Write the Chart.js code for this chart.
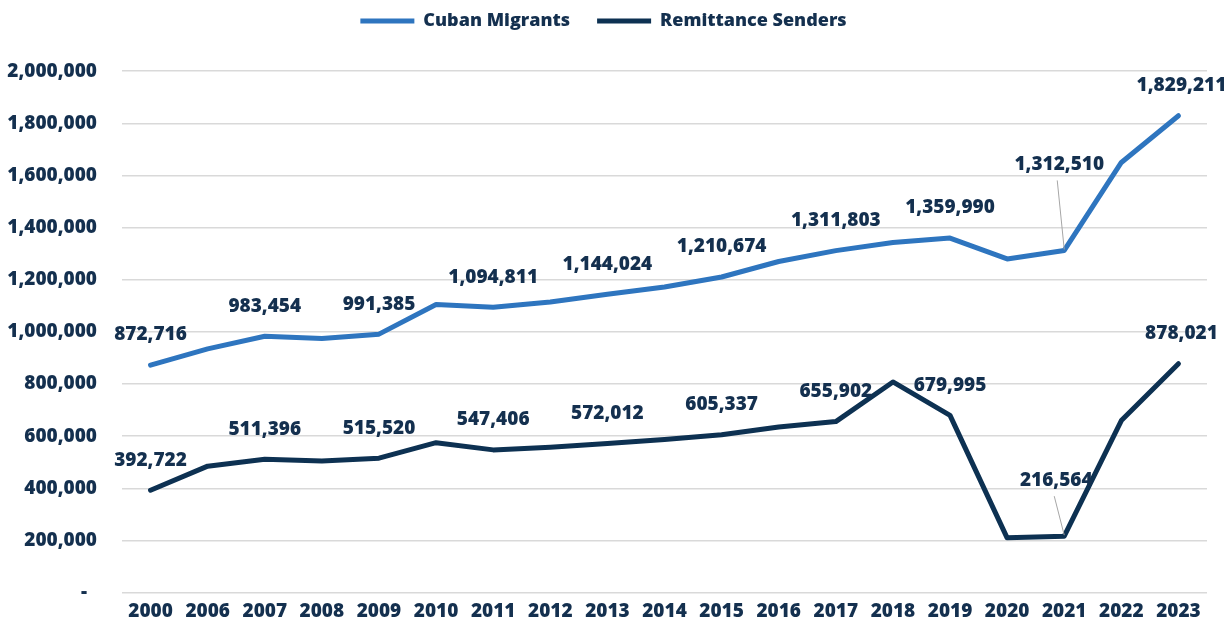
<!DOCTYPE html>
<html>
<head>
<meta charset="utf-8">
<script src="https://cdn.jsdelivr.net/npm/chart.js@4.4.1/dist/chart.umd.min.js"></script>
<style>
  html, body { margin: 0; padding: 0; background: #ffffff; }
  #wrap { width: 1228px; height: 629px; }
</style>
</head>
<body>
<div id="wrap"><canvas id="c" width="1228" height="629"></canvas></div>
<script>
const categories = ['2000','2006','2007','2008','2009','2010','2011','2012','2013','2014','2015','2016','2017','2018','2019','2020','2021','2022','2023'];
const cubanMigrants = [872716, 935000, 983454, 975000, 991385, 1105000, 1094811, 1115000, 1144024, 1172000, 1210674, 1270000, 1311803, 1343000, 1359990, 1280000, 1312510, 1650000, 1829211];
const remittanceSenders = [392722, 485000, 511396, 505000, 515520, 575000, 547406, 558000, 572012, 587000, 605337, 635000, 655902, 808000, 679995, 210000, 216564, 660000, 878021];
const labeledYears = ['2000','2007','2009','2011','2013','2015','2017','2019','2021','2023'];
const yTicks = [0, 200000, 400000, 600000, 800000, 1000000, 1200000, 1400000, 1600000, 1800000, 2000000];

const NAVY_TEXT = '#14304F';
const BLUE = '#2E75BF';
const DARK = '#0D3152';
const FONT = "'Open Sans', 'Noto Sans', sans-serif";
const W = 800;

const fmt = v => v.toLocaleString('en-US');

const labelPlugin = {
  id: 'pointLabels',
  afterDatasetsDraw(chart, args, opts) {
    const ctx = chart.ctx;
    ctx.save();
    ctx.font = `${W} ${opts.size}px ${FONT}`;
    ctx.fillStyle = NAVY_TEXT;
    ctx.textAlign = 'center';
    ctx.textBaseline = 'middle';
    chart.data.datasets.forEach((ds, di) => {
      const meta = chart.getDatasetMeta(di);
      meta.data.forEach((pt, i) => {
        const cat = categories[i];
        if (!labeledYears.includes(cat)) return;
        const special = (opts.special[di] || {})[cat];
        const dx = special ? special.dx : opts.dx;
        const dy = special ? special.dy : opts.dy;
        const lx = pt.x + dx, ly = pt.y + dy;
        if (special && special.leader) {
          ctx.save();
          ctx.strokeStyle = '#A6A6A6';
          ctx.lineWidth = 1;
          ctx.beginPath();
          ctx.moveTo(lx - 2, ly + 16);
          ctx.lineTo(pt.x, pt.y - 1);
          ctx.stroke();
          ctx.restore();
        }
        ctx.fillText(fmt(ds.data[i]), lx, ly);
      });
    });
    ctx.restore();
  }
};

new Chart(document.getElementById('c'), {
  type: 'line',
  data: {
    labels: categories,
    datasets: [
      { label: 'Cuban Migrants', data: cubanMigrants, borderColor: BLUE, backgroundColor: BLUE },
      { label: 'Remittance Senders', data: remittanceSenders, borderColor: DARK, backgroundColor: DARK }
    ]
  },
  options: {
    responsive: false,
    animation: false,
    layout: { padding: { left: 0, right: 21, top: -15, bottom: -5 } },
    elements: {
      line: { borderWidth: 5, tension: 0, borderCapStyle: 'round', borderJoinStyle: 'round', fill: false },
      point: { radius: 0, hoverRadius: 0 }
    },
    plugins: {
      tooltip: { enabled: false },
      title: { display: true, text: '', weight: 500, font: { size: 1 }, padding: { top: 30, bottom: 0 } },
      legend: {
        position: 'top',
        align: 'center',
        labels: {
          boxWidth: 54,
          boxHeight: 0,
          padding: 27,
          color: NAVY_TEXT,
          font: { family: FONT, size: 18, weight: W },
          generateLabels(chart) {
            return chart.data.datasets.map((ds, i) => ({
              text: ds.label,
              fillStyle: 'rgba(0,0,0,0)',
              strokeStyle: ds.borderColor,
              lineWidth: 5,
              lineCap: 'round',
              fontColor: NAVY_TEXT,
              datasetIndex: i,
              hidden: false
            }));
          }
        }
      },
      pointLabels: {
        size: 19,
        dx: 0,
        dy: -30,
        special: [
          { '2021': { dx: -5, dy: -86, leader: true }, '2023': { dx: 3, dy: -30 } },
          { '2021': { dx: -8, dy: -56, leader: true }, '2023': { dx: 3, dy: -30 } }
        ]
      }
    },
    scales: {
      x: {
        offset: true,
        grid: { display: false, drawTicks: false },
        border: { display: false },
        ticks: { color: NAVY_TEXT, font: { family: FONT, size: 19, weight: W }, padding: 8, maxRotation: 0, autoSkip: false }
      },
      y: {
        min: 0,
        max: 2000000,
        afterBuildTicks(axis) { axis.ticks = yTicks.map(v => ({ value: v })); },
        afterFit(axis) { axis.width = 122; },
        grid: { color: '#D9D9D9', lineWidth: 1.5, drawTicks: false },
        border: { display: false },
        ticks: {
          color: NAVY_TEXT,
          font: { family: FONT, size: 19, weight: W },
          padding: 25,
          callback: v => v === 0 ? '-  ' : fmt(v)
        }
      }
    }
  },
  plugins: [labelPlugin]
});
</script>
</body>
</html>
